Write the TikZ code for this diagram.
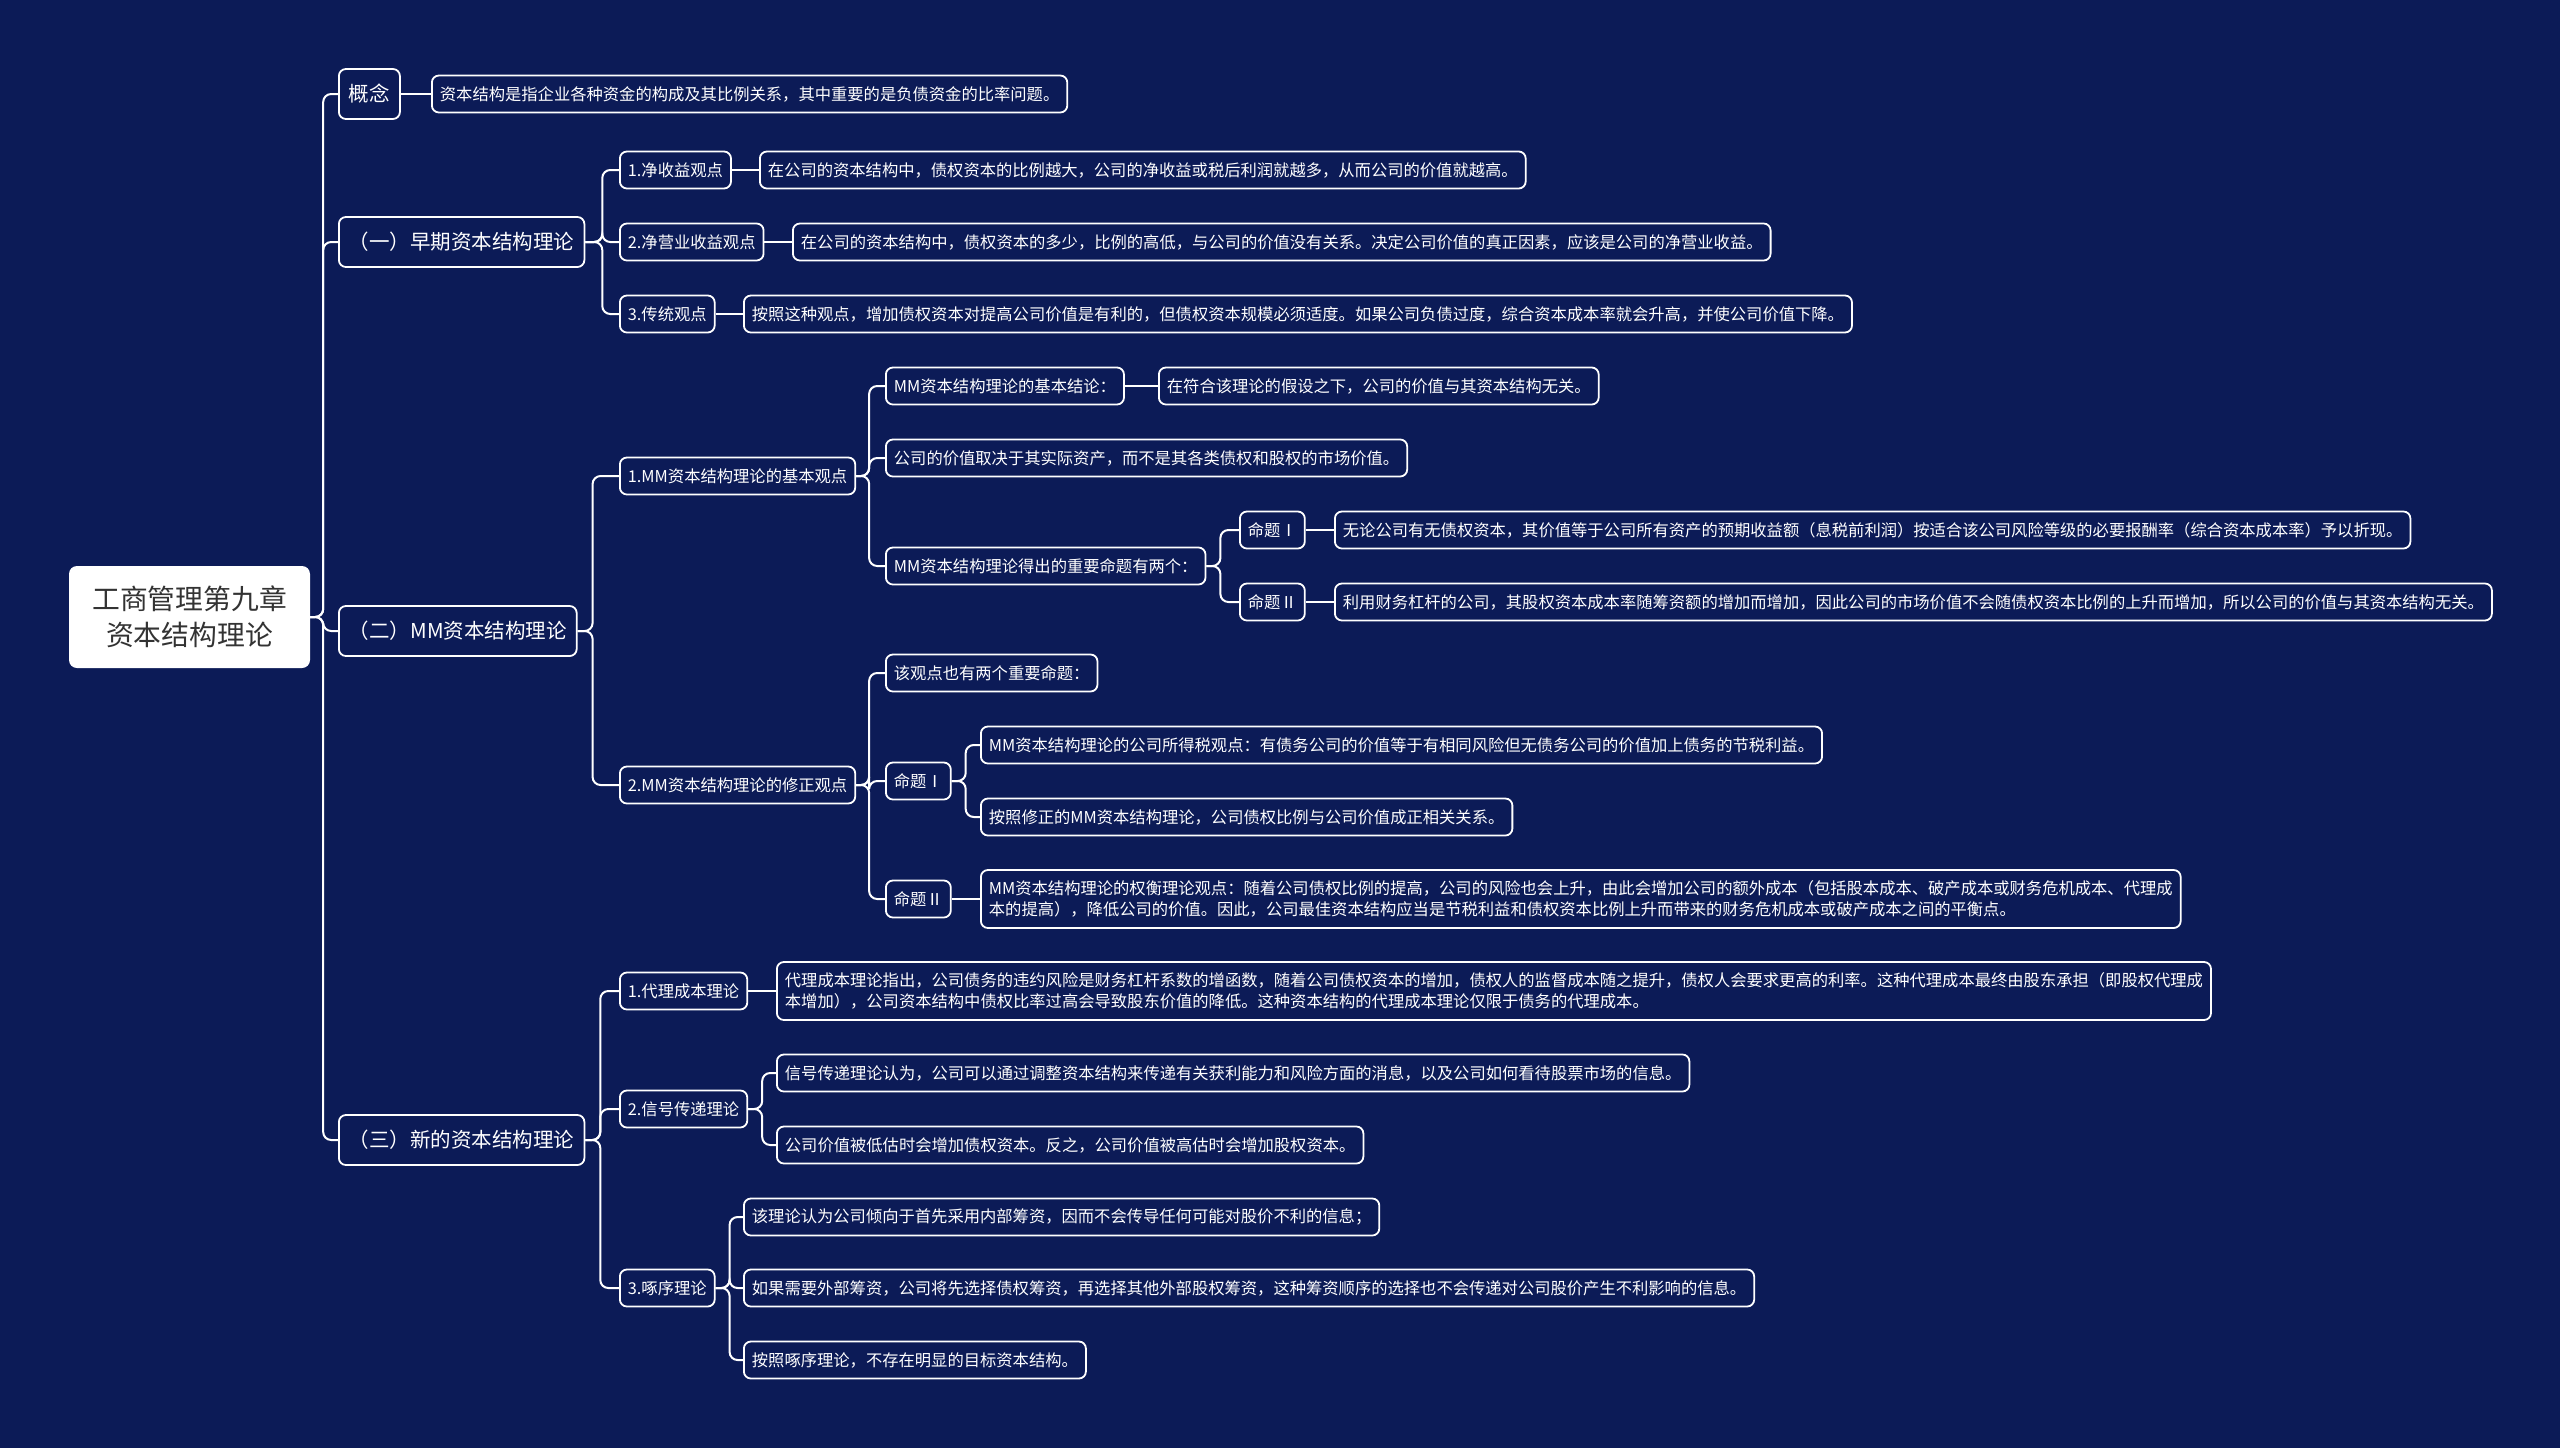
\documentclass[tikz,border=0pt]{standalone}
\usepackage{fontspec}
\setmainfont{Noto Sans CJK SC}
\definecolor{bg}{HTML}{0C1B57}
\definecolor{roottext}{HTML}{333333}
\begin{document}
\begin{tikzpicture}[x=1pt,y=-1pt,
 conn/.style={draw=white,line width=2pt,rounded corners=8pt},
 box/.style={draw=white,line width=1.8pt,fill=bg,rounded corners=7pt,text=white,anchor=west,inner ysep=0pt},
 lone/.style={box,font=\fontsize{20.5}{24}\selectfont,minimum height=50pt,inner xsep=10pt},
 leaf/.style={box,font=\fontsize{16.3}{21}\selectfont,minimum height=37pt,inner xsep=8pt},
 leaftwo/.style={leaf,align=left,minimum height=58pt},
 rootbox/.style={fill=white,rounded corners=8pt,text=roottext,font=\fontsize{27.8}{36}\selectfont,align=center,minimum width=241pt,minimum height=102pt}
]
\fill[bg] (0,0) rectangle (2560,1448);
\useasboundingbox (0,0) rectangle (2560,1448);

% root
\node[rootbox] (root) at (189.5,617) {工商管理第九章\\资本结构理论};

% level 1
\node[lone] (c1) at (338,94) {概念};
\node[lone] (c2) at (338,242) {（一）早期资本结构理论};
\node[lone] (c3) at (338,631) {（二）MM资本结构理论};
\node[lone] (c4) at (338,1140) {（三）新的资本结构理论};

% concept
\node[leaf] (c1l) at (431,94) {资本结构是指企业各种资金的构成及其比例关系，其中重要的是负债资金的比率问题。};

% early theories
\node[leaf] (a1) at (619,170) {1.净收益观点};
\node[leaf] (a1l) at (759,170) {在公司的资本结构中，债权资本的比例越大，公司的净收益或税后利润就越多，从而公司的价值就越高。};
\node[leaf] (a2) at (619,242) {2.净营业收益观点};
\node[leaf] (a2l) at (792,242) {在公司的资本结构中，债权资本的多少，比例的高低，与公司的价值没有关系。决定公司价值的真正因素，应该是公司的净营业收益。};
\node[leaf] (a3) at (619,314) {3.传统观点};
\node[leaf] (a3l) at (743,314) {按照这种观点，增加债权资本对提高公司价值是有利的，但债权资本规模必须适度。如果公司负债过度，综合资本成本率就会升高，并使公司价值下降。};

% MM theory
\node[leaf] (b1) at (619,476) {1.MM资本结构理论的基本观点};
\node[leaf] (b11) at (885,386) {MM资本结构理论的基本结论：};
\node[leaf] (b11l) at (1158,386) {在符合该理论的假设之下，公司的价值与其资本结构无关。};
\node[leaf] (b12) at (885,458) {公司的价值取决于其实际资产，而不是其各类债权和股权的市场价值。};
\node[leaf] (b13) at (885,566) {MM资本结构理论得出的重要命题有两个：};
\node[leaf] (b131) at (1239,530) {命题Ⅰ};
\node[leaf] (b131l) at (1334,530) {无论公司有无债权资本，其价值等于公司所有资产的预期收益额（息税前利润）按适合该公司风险等级的必要报酬率（综合资本成本率）予以折现。};
\node[leaf] (b132) at (1239,602) {命题Ⅱ};
\node[leaf] (b132l) at (1334,602) {利用财务杠杆的公司，其股权资本成本率随筹资额的增加而增加，因此公司的市场价值不会随债权资本比例的上升而增加，所以公司的价值与其资本结构无关。};

\node[leaf] (b2) at (619,785) {2.MM资本结构理论的修正观点};
\node[leaf] (b21) at (885,673) {该观点也有两个重要命题：};
\node[leaf] (b22) at (885,781) {命题Ⅰ};
\node[leaf] (b221) at (980,745) {MM资本结构理论的公司所得税观点：有债务公司的价值等于有相同风险但无债务公司的价值加上债务的节税利益。};
\node[leaf] (b222) at (980,817) {按照修正的MM资本结构理论，公司债权比例与公司价值成正相关关系。};
\node[leaf] (b23) at (885,899) {命题Ⅱ};
\node[leaftwo] (b23l) at (980,899) {MM资本结构理论的权衡理论观点：随着公司债权比例的提高，公司的风险也会上升，由此会增加公司的额外成本（包括股本成本、破产成本或财务危机成本、代理成\\本的提高），降低公司的价值。因此，公司最佳资本结构应当是节税利益和债权资本比例上升而带来的财务危机成本或破产成本之间的平衡点。};

% new theories
\node[leaf] (d1) at (619,991) {1.代理成本理论};
\node[leaftwo] (d1l) at (776,991) {代理成本理论指出，公司债务的违约风险是财务杠杆系数的增函数，随着公司债权资本的增加，债权人的监督成本随之提升，债权人会要求更高的利率。这种代理成本最终由股东承担（即股权代理成\\本增加），公司资本结构中债权比率过高会导致股东价值的降低。这种资本结构的代理成本理论仅限于债务的代理成本。};
\node[leaf] (d2) at (619,1109) {2.信号传递理论};
\node[leaf] (d21) at (776,1073) {信号传递理论认为，公司可以通过调整资本结构来传递有关获利能力和风险方面的消息，以及公司如何看待股票市场的信息。};
\node[leaf] (d22) at (776,1145) {公司价值被低估时会增加债权资本。反之，公司价值被高估时会增加股权资本。};
\node[leaf] (d3) at (619,1288) {3.啄序理论};
\node[leaf] (d31) at (743,1217) {该理论认为公司倾向于首先采用内部筹资，因而不会传导任何可能对股价不利的信息；};
\node[leaf] (d32) at (743,1288) {如果需要外部筹资，公司将先选择债权筹资，再选择其他外部股权筹资，这种筹资顺序的选择也不会传递对公司股价产生不利影响的信息。};
\node[leaf] (d33) at (743,1360) {按照啄序理论，不存在明显的目标资本结构。};

% connectors
\foreach \c in {c1,c2,c3,c4} \draw[conn] (root.east) -- ++(13,0) |- (\c.west);
\draw[conn] (c1.east) -- (c1l.west);
\foreach \c in {a1,a2,a3} \draw[conn] (c2.east) -- ++(17,0) |- (\c.west);
\draw[conn] (a1.east) -- (a1l.west);
\draw[conn] (a2.east) -- (a2l.west);
\draw[conn] (a3.east) -- (a3l.west);
\foreach \c in {b1,b2} \draw[conn] (c3.east) -- ++(15,0) |- (\c.west);
\foreach \c in {b11,b12,b13} \draw[conn] (b1.east) -- ++(13,0) |- (\c.west);
\draw[conn] (b11.east) -- (b11l.west);
\foreach \c in {b131,b132} \draw[conn] (b13.east) -- ++(14,0) |- (\c.west);
\draw[conn] (b131.east) -- (b131l.west);
\draw[conn] (b132.east) -- (b132l.west);
\foreach \c in {b21,b22,b23} \draw[conn] (b2.east) -- ++(13,0) |- (\c.west);
\foreach \c in {b221,b222} \draw[conn] (b22.east) -- ++(14,0) |- (\c.west);
\draw[conn] (b23.east) -- (b23l.west);
\foreach \c in {d1,d2,d3} \draw[conn] (c4.east) -- ++(15,0) |- (\c.west);
\draw[conn] (d1.east) -- (d1l.west);
\foreach \c in {d21,d22} \draw[conn] (d2.east) -- ++(14,0) |- (\c.west);
\foreach \c in {d31,d32,d33} \draw[conn] (d3.east) -- ++(14,0) |- (\c.west);
\end{tikzpicture}
\end{document}
